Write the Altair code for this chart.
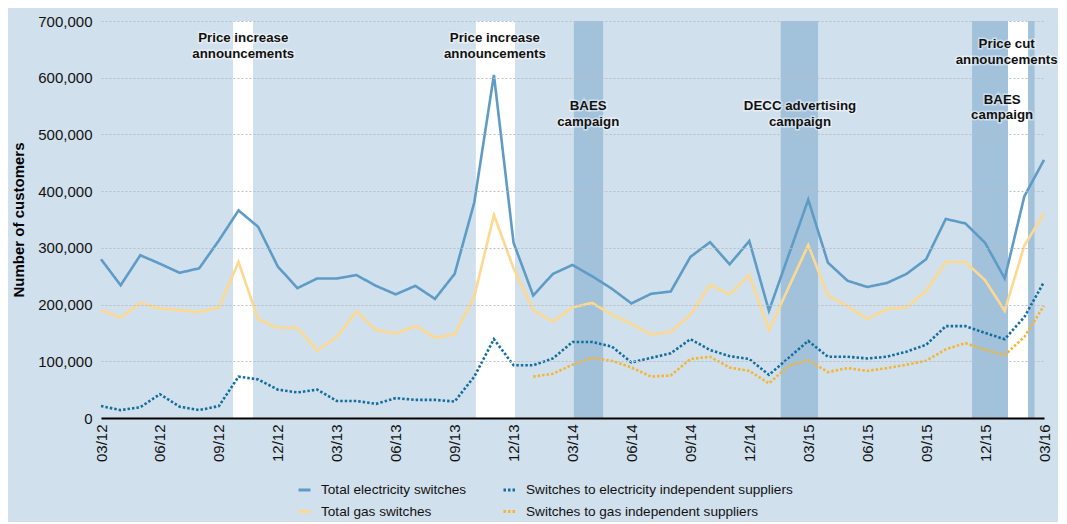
import json
import altair as alt
import pandas as pd

# ---------------- data ----------------
months = ["03/12", "04/12", "05/12", "06/12", "07/12", "08/12", "09/12", "10/12", "11/12", "12/12",
          "01/13", "02/13", "03/13", "04/13", "05/13", "06/13", "07/13", "08/13", "09/13", "10/13",
          "11/13", "12/13", "01/14", "02/14", "03/14", "04/14", "05/14", "06/14", "07/14", "08/14",
          "09/14", "10/14", "11/14", "12/14", "01/15", "02/15", "03/15", "04/15", "05/15", "06/15",
          "07/15", "08/15", "09/15", "10/15", "11/15", "12/15", "01/16", "02/16", "03/16"]

elec_total = [280000, 234000, 287000, 272000, 256000, 264000, 313000, 366000, 337000, 267000,
              229000, 246000, 246000, 252000, 233000, 218000, 233000, 210000, 254000, 380000,
              605000, 309000, 216000, 254000, 270000, 250000, 228000, 202000, 219000, 223000,
              284000, 310000, 271000, 312000, 189000, 287000, 385000, 274000, 242000, 231000,
              238000, 254000, 280000, 351000, 343000, 309000, 246000, 391000, 455000]

gas_total = [190000, 177000, 203000, 193000, 190000, 187000, 195000, 275000, 174000, 159000,
             159000, 119000, 143000, 188000, 155000, 149000, 162000, 142000, 147000, 214000,
             358000, 264000, 190000, 170000, 195000, 203000, 182000, 166000, 147000, 152000,
             182000, 235000, 218000, 252000, 155000, 230000, 305000, 216000, 197000, 175000,
             192000, 195000, 224000, 275000, 275000, 243000, 189000, 304000, 361000]

elec_indep = [21000, 14000, 19000, 42000, 20000, 14000, 21000, 73000, 68000, 50000,
              45000, 50000, 30000, 30000, 25000, 35000, 32000, 32000, 29000, 73000,
              139000, 93000, 93000, 105000, 134000, 134000, 126000, 98000, 106000, 114000,
              139000, 120000, 109000, 104000, 76000, 106000, 136000, 108000, 108000, 105000,
              108000, 117000, 129000, 162000, 162000, 150000, 139000, 178000, 240000]

gas_indep = [None] * 22 + [73000, 78000, 94000, 106000, 101000, 89000, 73000, 75000, 104000, 108000,
                           89000, 83000, 61000, 92000, 102000, 81000, 88000, 83000, 88000, 94000,
                           101000, 121000, 132000, 120000, 111000, 143000, 198000]

series_names = ["Total electricity switches", "Switches to electricity independent suppliers",
                "Total gas switches", "Switches to gas independent suppliers"]
series_values = [elec_total, elec_indep, gas_total, gas_indep]
series_colors = ["#5e9cc6", "#136e9e", "#fdd98f", "#f6b530"]

# shaded periods (in month index units from 03/12)
band_start = [6.72, 19.08, 24.07, 34.6, 44.34, 46.17, 47.19]
band_end = [7.74, 21.07, 25.56, 36.5, 46.17, 47.19, 47.52]
band_kind = ["announce", "announce", "campaign", "campaign", "campaign", "announce", "campaign"]

ann_text = ["Price increase\nannouncements", "Price increase\nannouncements", "BAES\ncampaign",
            "DECC advertising\ncampaign", "Price cut\nannouncements", "BAES\ncampaign"]
ann_x = [7.24, 20.05, 24.8, 35.58, 46.1, 45.87]
ann_y = [670000, 670000, 550000, 550000, 659000, 561000]

y_ticks = [0, 100000, 200000, 300000, 400000, 500000, 600000, 700000]
x_ticks = list(range(0, 49, 3))

# ---------------- frames ----------------
rows = []
for name, vals in zip(series_names, series_values):
    for i, v in enumerate(vals):
        if v is not None:
            rows.append({"idx": i, "month": months[i], "series": name, "value": v})
df = pd.DataFrame(rows)

bands = pd.DataFrame({"start": band_start, "end": band_end, "kind": band_kind})
anns = pd.DataFrame({"text": ann_text, "x": ann_x, "y": ann_y})

FONT = "Liberation Sans, Arial, sans-serif"
W, H = 943, 397

x_scale = alt.Scale(domain=[0, 48], nice=False, zero=False)
y_scale = alt.Scale(domain=[0, 700000], nice=False)

label_expr = json.dumps(months) + "[round(datum.value)]"

x_axis = alt.Axis(values=x_ticks, labelExpr=label_expr, labelAngle=-90, title=None,
                  grid=False, ticks=False, domainColor="#000000", domainWidth=2,
                  labelFont=FONT, labelFontSize=15, labelColor="#111111",
                  labelPadding=6, labelOverlap=False, labelFlush=False, zindex=1)
y_axis = alt.Axis(values=y_ticks, format=",.0f", title="Number of customers",
                  ticks=False, domain=False, grid=True, gridColor="#b9bfc6",
                  gridDash=[2, 2], gridWidth=1, labelFont=FONT, labelFontSize=15,
                  labelColor="#111111", labelPadding=9, titleFont=FONT,
                  titleFontSize=15, titleFontWeight="bold", titleColor="#000000",
                  titlePadding=11, zindex=1)

band_layer = alt.Chart(bands).mark_rect().encode(
    x=alt.X("start:Q", scale=x_scale, axis=x_axis),
    x2="end:Q",
    y=alt.Y(datum=700000, scale=y_scale, type="quantitative", axis=y_axis),
    y2=alt.datum(0),
    fill=alt.Fill("kind:N", scale=alt.Scale(domain=["announce", "campaign"],
                                             range=["#ffffff", "#a2c2dc"]), legend=None),
)

line_layer = alt.Chart(df).mark_line(strokeWidth=2.6).encode(
    x=alt.X("idx:Q", scale=x_scale, axis=x_axis),
    y=alt.Y("value:Q", scale=y_scale, axis=y_axis),
    color=alt.Color("series:N",
                    scale=alt.Scale(domain=series_names, range=series_colors),
                    sort=series_names,
                    legend=alt.Legend(title=None, orient="none", legendX=196, legendY=461,
                                      columns=2, columnPadding=30, rowPadding=7,
                                      symbolType="stroke", symbolSize=144,
                                      symbolStrokeWidth=3, labelFont=FONT,
                                      labelFontSize=13.6, labelColor="#111111",
                                      labelOffset=9, labelLimit=0, direction="horizontal")),
    strokeDash=alt.StrokeDash("series:N",
                              scale=alt.Scale(domain=series_names,
                                              range=[[1, 0], [2.5, 2], [1, 0], [2.5, 2]]),
                              sort=series_names, legend=None),
)

halo_layer = alt.Chart(anns).mark_text(
    font=FONT, fontSize=13.3, fontWeight="bold", lineBreak="\n", lineHeight=15.5,
    align="center", baseline="middle", stroke="#ffffff", strokeWidth=3, strokeOpacity=0.45,
    fill="#ffffff", fillOpacity=0.45,
).encode(x=alt.X("x:Q", scale=x_scale, axis=x_axis),
         y=alt.Y("y:Q", scale=y_scale, axis=y_axis), text="text:N")

text_layer = alt.Chart(anns).mark_text(
    font=FONT, fontSize=13.3, fontWeight="bold", lineBreak="\n", lineHeight=15.5,
    align="center", baseline="middle", color="#111111",
).encode(x=alt.X("x:Q", scale=x_scale, axis=x_axis),
         y=alt.Y("y:Q", scale=y_scale, axis=y_axis), text="text:N")

chart = alt.layer(band_layer, line_layer, halo_layer, text_layer).properties(
    width=W, height=H,
    autosize=alt.AutoSizeParams(type="none"),
    padding={"left": 93, "top": 13, "right": 14, "bottom": 104},
    background="#d1e0ed",
).configure_view(stroke=None)

chart.save("out.html", embed_options={"renderer": "svg", "actions": False})
